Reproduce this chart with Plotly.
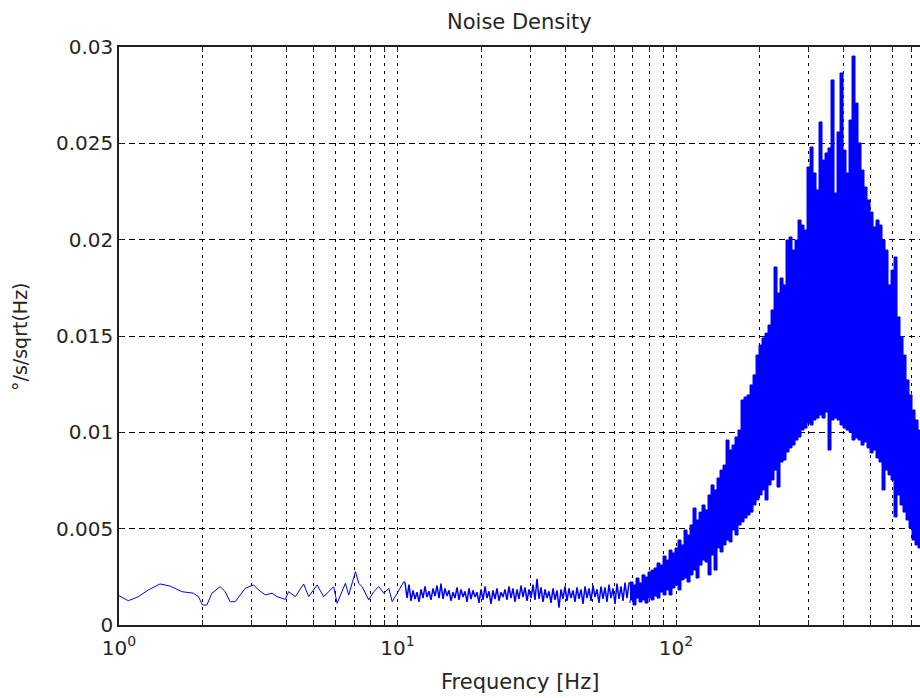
import numpy as np
import plotly.graph_objects as go

# ---- spectrum data: frequency in Hz, noise density in deg/s/sqrt(Hz) ----

# 1 - 10.5 Hz: smooth low-frequency part
low_freq = [1.000, 1.080, 1.173, 1.275, 1.404, 1.526, 1.681, 1.850, 1.929, 1.993,
            2.068, 2.156, 2.309, 2.406, 2.507, 2.614, 2.839, 3.042, 3.170, 3.351,
            3.542, 3.692, 3.955, 4.064, 4.297, 4.602, 4.797, 5.143, 5.432, 5.900,
            6.068, 6.501, 6.681, 7.064, 7.260, 7.464, 7.884, 8.215, 8.564, 8.927,
            9.305, 9.570, 9.975, 10.54]
low_val = [0.00152, 0.00126, 0.00147, 0.00182, 0.00213, 0.00202, 0.00173, 0.00165, 0.00147, 0.00104,
           0.00104, 0.00165, 0.00199, 0.00173, 0.00121, 0.00121, 0.00190, 0.00208, 0.00182, 0.00156,
           0.00165, 0.00147, 0.00133, 0.00173, 0.00147, 0.00213, 0.00147, 0.00208, 0.00147, 0.00199,
           0.00113, 0.00216, 0.00156, 0.00277, 0.00216, 0.00199, 0.00130, 0.00173, 0.00199, 0.00165,
           0.00190, 0.00121, 0.00165, 0.00225]

# 10.6 - 68 Hz: bin-to-bin scatter, samples evenly spaced in log frequency
mid_start, mid_stop = 10.64, 67.8
mid_val = [0.00222, 0.00140, 0.00210, 0.00125, 0.00180, 0.00135, 0.00170, 0.00120, 0.00185, 0.00140,
           0.00200, 0.00145, 0.00175, 0.00130, 0.00190, 0.00150, 0.00205, 0.00140, 0.00215, 0.00135,
           0.00190, 0.00150, 0.00180, 0.00125, 0.00170, 0.00140, 0.00195, 0.00130, 0.00185, 0.00145,
           0.00175, 0.00120, 0.00190, 0.00135, 0.00180, 0.00145, 0.00170, 0.00115, 0.00185, 0.00130,
           0.00200, 0.00140, 0.00175, 0.00110, 0.00180, 0.00135, 0.00190, 0.00125, 0.00170, 0.00145,
           0.00185, 0.00130, 0.00200, 0.00140, 0.00190, 0.00120, 0.00185, 0.00135, 0.00205, 0.00145,
           0.00195, 0.00125, 0.00185, 0.00140, 0.00210, 0.00130, 0.00240, 0.00135, 0.00195, 0.00120,
           0.00185, 0.00140, 0.00175, 0.00115, 0.00190, 0.00130, 0.00180, 0.00090, 0.00185, 0.00135,
           0.00200, 0.00125, 0.00190, 0.00140, 0.00180, 0.00120, 0.00195, 0.00135, 0.00185, 0.00110,
           0.00200, 0.00140, 0.00190, 0.00125, 0.00205, 0.00145, 0.00185, 0.00115, 0.00200, 0.00135,
           0.00195, 0.00120, 0.00210, 0.00140, 0.00190, 0.00110, 0.00215, 0.00135, 0.00200, 0.00125,
           0.00220, 0.00140, 0.00215]

# 68 - 758 Hz: per-sample peak (hi) and trough (lo) of the resonance hump
seg_start, seg_stop = 68.37, 758.2
seg_hi = [0.00223, 0.00208, 0.00244, 0.00218, 0.00260, 0.00249, 0.00275, 0.00285, 0.00296, 0.00322,
          0.00311, 0.00358, 0.00337, 0.00389, 0.00374, 0.00400, 0.00441, 0.00415, 0.00493, 0.00467,
          0.00519, 0.00607, 0.00545, 0.00586, 0.00623, 0.00597, 0.00675, 0.00727, 0.00701, 0.00763,
          0.00804, 0.00830, 0.00960, 0.00908, 0.00934, 0.00976, 0.01012, 0.01168, 0.01183, 0.01194,
          0.01246, 0.01298, 0.01401, 0.01453, 0.01490, 0.01515, 0.01557, 0.01635, 0.01858, 0.01723,
          0.01801, 0.01765, 0.01998, 0.02014, 0.01946, 0.01998, 0.02102, 0.02076, 0.02050, 0.02377,
          0.02481, 0.02346, 0.02258, 0.02611, 0.02413, 0.02450, 0.02476, 0.02829, 0.02242, 0.02559,
          0.02865, 0.02465, 0.02346, 0.02621, 0.02953, 0.02709, 0.02502, 0.02361, 0.02273, 0.02206,
          0.02143, 0.02066, 0.02102, 0.02076, 0.01998, 0.01946, 0.01765, 0.01842, 0.01910, 0.01599,
          0.01495, 0.01401, 0.01272, 0.01194, 0.01116, 0.01064, 0.01012, 0.00960]
seg_lo = [0.00114, 0.00130, 0.00104, 0.00140, 0.00119, 0.00130, 0.00114, 0.00140, 0.00130, 0.00151,
          0.00140, 0.00171, 0.00156, 0.00182, 0.00156, 0.00192, 0.00208, 0.00182, 0.00234, 0.00244,
          0.00223, 0.00260, 0.00285, 0.00244, 0.00311, 0.00337, 0.00327, 0.00260, 0.00363, 0.00285,
          0.00400, 0.00379, 0.00415, 0.00441, 0.00431, 0.00493, 0.00467, 0.00519, 0.00535, 0.00555,
          0.00571, 0.00586, 0.00623, 0.00649, 0.00675, 0.00701, 0.00649, 0.00727, 0.00753, 0.00804,
          0.00716, 0.00846, 0.00856, 0.00898, 0.00919, 0.00934, 0.00960, 0.00976, 0.01012, 0.01022,
          0.01048, 0.01038, 0.01064, 0.01074, 0.01090, 0.01074, 0.01105, 0.00908, 0.01064, 0.01074,
          0.01064, 0.01038, 0.01022, 0.01012, 0.01002, 0.00960, 0.00971, 0.00960, 0.00934, 0.00950,
          0.00919, 0.00893, 0.00908, 0.00867, 0.00846, 0.00701, 0.00804, 0.00779, 0.00753, 0.00561,
          0.00675, 0.00623, 0.00586, 0.00545, 0.00503, 0.00441, 0.00415, 0.00400]

# axis ticks
x_tickvals = [1, 2, 3, 4, 5, 6, 7, 8, 9,
              10, 20, 30, 40, 50, 60, 70, 80, 90,
              100, 200, 300, 400, 500, 600, 700]
x_ticktext = ["10<sup>0</sup>"] + [""] * 8 + ["10<sup>1</sup>"] + [""] * 8 + ["10<sup>2</sup>"] + [""] * 6
y_tickvals = [0, 0.005, 0.01, 0.015, 0.02, 0.025, 0.03]
y_ticktext = ["0", "0.005", "0.01", "0.015", "0.02", "0.025", "0.03"]
x_max = 751.8

BLUE = "#0000ff"
TEXT = "#262626"
FONT = "DejaVu Sans"

# ---- traces ----
mid_freq = np.geomspace(mid_start, mid_stop, len(mid_val))
seg_freq = list(np.geomspace(seg_start, seg_stop, len(seg_hi)))

fig = go.Figure()

# low-frequency curve
fig.add_trace(go.Scatter(x=low_freq + [mid_freq[0]], y=low_val + [mid_val[0]],
                         mode="lines", line=dict(color=BLUE, width=1)))

# scatter band 10-68 Hz
fig.add_trace(go.Scatter(x=list(mid_freq) + [seg_freq[0]],
                         y=list(mid_val) + [seg_hi[0]],
                         mode="lines", line=dict(color=BLUE, width=1.5)))

# resonance hump: band between per-sample peaks and troughs, stepped
fig.add_trace(go.Scatter(
    x=seg_freq + seg_freq[::-1],
    y=list(seg_hi) + list(seg_lo)[::-1],
    fill="toself", fillcolor=BLUE, mode="lines",
    line=dict(width=1, color=BLUE, shape="hv"), hoverinfo="skip"))

axis_common = dict(
    showgrid=True, gridcolor="black", gridwidth=1,
    showline=True, linecolor="#202020", linewidth=1.5,
    ticks="inside", ticklen=5, tickcolor="#202020", tickwidth=1,
    zeroline=False, tickfont=dict(family=FONT, size=20, color=TEXT),
)

fig.update_layout(
    width=920, height=698,
    margin=dict(l=119, r=0, t=47, b=73),
    paper_bgcolor="white", plot_bgcolor="white",
    showlegend=False,
    font=dict(family=FONT, size=20, color=TEXT),
    xaxis=dict(type="log", range=[0, np.log10(x_max)],
               tickvals=x_tickvals, ticktext=x_ticktext, tickangle=0,
               ticklabelstandoff=4,
               griddash="3px,5px", mirror="ticks", **axis_common),
    yaxis=dict(range=[0, 0.03], tickvals=y_tickvals, ticktext=y_ticktext,
               griddash="6px,4px", mirror=False, **axis_common),
    annotations=[
        dict(text="Noise Density", xref="paper", yref="paper", x=0.4994, y=1.0433,
             xanchor="center", yanchor="middle", showarrow=False,
             font=dict(family=FONT, size=21, color=TEXT)),
        dict(text="Frequency [Hz]", xref="paper", yref="paper", x=0.5006, y=-0.0986,
             xanchor="center", yanchor="middle", showarrow=False,
             font=dict(family=FONT, size=21, color=TEXT)),
        dict(text="°/s/sqrt(Hz)", xref="paper", yref="paper", x=-0.1236, y=0.5,
             xanchor="center", yanchor="middle", showarrow=False, textangle=-90,
             font=dict(family=FONT, size=19, color=TEXT)),
    ],
)

fig.write_html("out.html")
